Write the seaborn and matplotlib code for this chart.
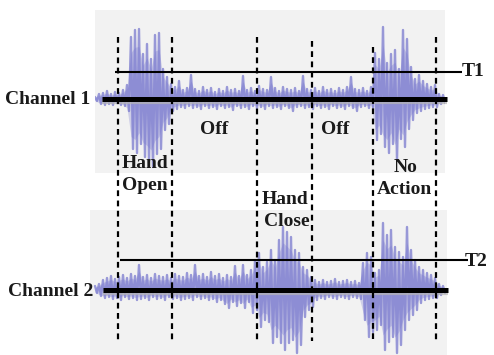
import numpy as np
import pandas as pd
import matplotlib
matplotlib.use("Agg")
import matplotlib.pyplot as plt
import seaborn as sns

# ---------------- data (amplitudes, arbitrary units) --------------
# samples every 4 time units, t = 0, 4, ..., 348
ch1_up = [2, 5, 6, 8, 5, 7, 6, 9, 14, 62, 69, 70, 45, 55, 40, 64, 66, 30, 22, 15,
          12, 18, 9, 11, 24, 10, 8, 12, 9, 11, 7, 10, 8, 12, 9, 10, 8, 23, 9, 11,
          8, 13, 10, 9, 22, 11, 8, 12, 10, 9, 11, 8, 23, 10, 9, 11, 8, 12, 9, 10,
          8, 11, 9, 12, 22, 10, 9, 11, 8, 12, 46, 40, 72, 36, 45, 49, 30, 69, 60, 32,
          20, 24, 18, 15, 12, 14, 5, 4]
ch1_down = [2, 5, 6, 5, 6, 4, 6, 7, 12, 50, 54, 45, 58, 62, 68, 55, 50, 31, 25, 12,
            10, 8, 9, 7, 9, 8, 10, 7, 9, 8, 10, 7, 9, 8, 11, 7, 9, 8, 10, 7,
            9, 8, 10, 7, 9, 8, 10, 7, 9, 12, 8, 7, 9, 8, 10, 7, 9, 8, 10, 7,
            9, 8, 10, 7, 9, 12, 8, 7, 9, 8, 41, 35, 48, 54, 45, 61, 40, 48, 30, 21,
            14, 12, 10, 9, 8, 8, 5, 4]
ch2_up = [4, 6, 10, 12, 14, 11, 13, 15, 12, 16, 14, 25, 13, 15, 12, 16, 14, 13, 15, 12,
          16, 14, 13, 17, 15, 25, 14, 16, 13, 18, 14, 16, 12, 15, 13, 24, 14, 25, 15, 20,
          30, 37, 23, 28, 40, 30, 50, 63, 58, 53, 40, 37, 23, 20, 13, 10, 8, 10, 8, 9,
          11, 8, 9, 10, 8, 9, 7, 27, 37, 33, 17, 20, 67, 55, 60, 43, 38, 33, 63, 40,
          30, 23, 20, 17, 15, 12, 6, 4]
ch2_down = [3, 6, 8, 7, 9, 8, 10, 7, 9, 8, 10, 9, 8, 10, 7, 9, 8, 10, 7, 9,
            8, 10, 9, 8, 10, 7, 9, 8, 10, 9, 12, 10, 14, 18, 12, 16, 13, 18, 12, 23,
            20, 37, 30, 32, 53, 47, 53, 60, 53, 50, 63, 55, 27, 20, 17, 10, 8, 9, 7, 8,
            9, 7, 8, 9, 7, 8, 9, 30, 47, 42, 40, 35, 60, 52, 47, 63, 55, 40, 30, 25,
            20, 13, 10, 9, 8, 8, 5, 3]
sample_step = 4

# segment boundaries (time units) and labels
boundaries = [23, 77, 162, 217, 278, 341]
threshold_1 = 27
threshold_2 = 30


def zigzag(up, down, step):
    t, v = [], []
    for i, (u, d) in enumerate(zip(up, down)):
        t += [i * step, i * step + step / 2]
        v += [u, -d]
    return pd.DataFrame({"t": t, "v": v})


sns.set_theme(style="white")
plt.rcParams["font.family"] = ["Liberation Serif", "DejaVu Serif"]

W, H = 494, 355
fig = plt.figure(figsize=(W / 100, H / 100), dpi=100)
fig.patch.set_facecolor("white")

panel = "#f2f2f2"
sig_color = "#7272cc"

# top panel (channel 1)
ax1 = fig.add_axes([95 / W, (H - 173) / H, 350 / W, 163 / H])
ax1.set_facecolor(panel)
ax1.set_xlim(0, 350)
ax1.set_ylim(-74, 89)
# bottom panel (channel 2)
ax2 = fig.add_axes([90 / W, 0, 357 / W, 145 / H])
ax2.set_facecolor(panel)
ax2.set_xlim(-5, 352)
ax2.set_ylim(-65, 80)

for ax in (ax1, ax2):
    ax.set_xticks([])
    ax.set_yticks([])
    for s in ax.spines.values():
        s.set_visible(False)

for ax, up, down in ((ax1, ch1_up, ch1_down), (ax2, ch2_up, ch2_down)):
    d = zigzag(up, down, sample_step)
    tt = np.arange(len(up)) * sample_step
    # soft envelope body
    ax.fill_between(tt, np.array(up) * 0.75, -np.array(down) * 0.75,
                    color=sig_color, alpha=0.28, lw=0)
    sns.lineplot(data=d, x="t", y="v", ax=ax, sort=False, estimator=None,
                 color=sig_color, lw=1.7, alpha=0.7, legend=False)
    ax.set_xlabel("")
    ax.set_ylabel("")

# baselines with gray shadow
ax1.hlines(-3, 7, 352, color="#b5b5b5", lw=3, alpha=0.7, clip_on=False, zorder=3)
ax1.hlines(0, 7, 352, color="black", lw=3.6, clip_on=False, zorder=4)
ax2.hlines(-3, 8, 353, color="#b5b5b5", lw=3, alpha=0.7, clip_on=False, zorder=3)
ax2.hlines(0, 8, 353, color="black", lw=3.6, clip_on=False, zorder=4)
# thresholds
ax1.hlines(threshold_1, 20, 367, color="black", lw=1.5, clip_on=False, zorder=4)
ax2.hlines(threshold_2, 25, 373, color="black", lw=1.5, clip_on=False, zorder=4)

# overlay for dashed markers and text (x in time units, y in pixels)
ax0 = fig.add_axes([0, 0, 1, 1], facecolor="none")
ax0.set_xlim(-95, W - 95)
ax0.set_ylim(H, 0)
ax0.set_axis_off()
tops = [37, 37, 37, 41, 47, 37]
for b, top in zip(boundaries, tops):
    ax0.plot([b, b], [top, 341], color="black", lw=1.6, ls=(0, (2.6, 2.0)))

fs = 14
bold = dict(fontweight="bold", color="#1a1a1a", fontsize=fs)
ax0.text(-90, 100, "Channel 1", ha="left", va="center", **bold)
ax0.text(-87, 292, "Channel 2", ha="left", va="center", **bold)
ax0.text(367, 72, "T1", ha="left", va="center", **bold)
ax0.text(370, 262, "T2", ha="left", va="center", **bold)
ax0.text(119, 129, "Off", ha="center", va="center", **bold)
ax0.text(240, 129, "Off", ha="center", va="center", **bold)
ax0.text(50, 163, "Hand", ha="center", va="center", **bold)
ax0.text(50, 186, "Open", ha="center", va="center", **bold)
ax0.text(190, 200, "Hand", ha="center", va="center", **bold)
ax0.text(192, 222, "Close", ha="center", va="center", **bold)
ax0.text(311, 168, "No", ha="center", va="center", **bold)
ax0.text(309, 190, "Action", ha="center", va="center", **bold)

fig.savefig("out.png", dpi=100)
